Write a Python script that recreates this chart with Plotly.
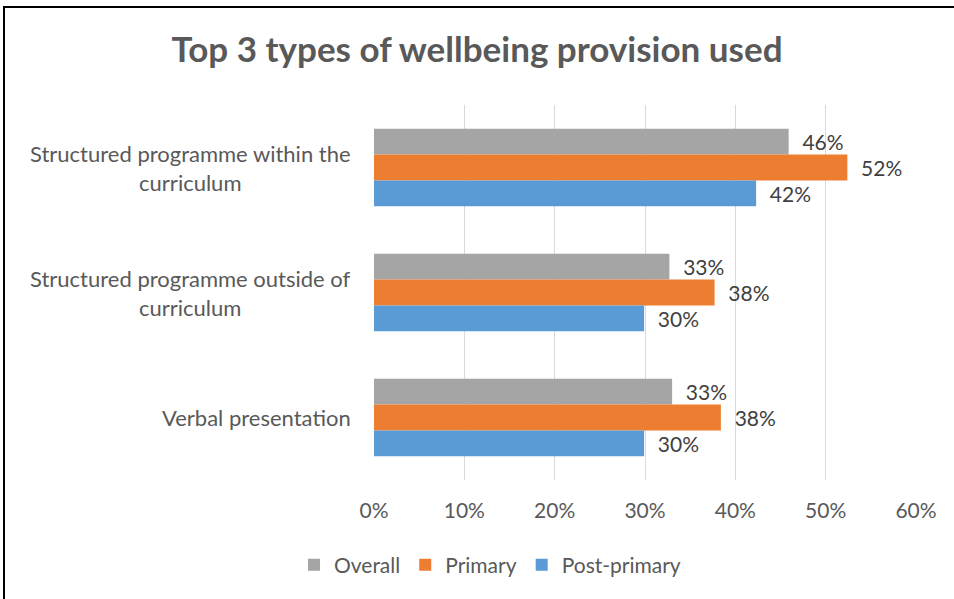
import plotly.graph_objects as go

categories = [
    "Structured programme within the<br>curriculum",
    "Structured programme outside of<br>curriculum",
    "Verbal presentation",
]
series_names = ["Overall", "Primary", "Post-primary"]
overall = [45.9, 32.7, 33.0]
primary = [52.4, 37.7, 38.4]
post_primary = [42.3, 29.9, 29.9]
colors = ["#A5A5A5", "#ED7D31", "#5B9BD5"]
x_ticks = [0, 10, 20, 30, 40, 50, 60]
x_tick_labels = ["0%", "10%", "20%", "30%", "40%", "50%", "60%"]

FONT = "Lato"
TXT = "#595959"

fig = go.Figure()
for name, vals, col in zip(series_names, [overall, primary, post_primary], colors):
    fig.add_trace(go.Bar(
        y=categories, x=vals, name=name, orientation="h",
        marker=dict(color=col, line=dict(width=0)),
        texttemplate="\u00a0\u00a0%{x:.0f}%", textposition="outside",
        textfont=dict(family=FONT, size=21, color="#404040"),
        cliponaxis=False,
    ))

fig.update_layout(
    width=954, height=599,
    margin=dict(l=374, r=38, t=105, b=119),
    paper_bgcolor="white", plot_bgcolor="white",
    barmode="group", bargap=0.38, bargroupgap=0,
    title=dict(text="<b>Top 3 types of wellbeing provision used</b>",
               x=0.5, xanchor="center", y=1 - 50 / 599, yanchor="middle",
               font=dict(family=FONT, size=35, color=TXT)),
    xaxis=dict(range=[0, 60], tickvals=x_ticks, ticktext=x_tick_labels,
               showgrid=True, gridcolor="#D9D9D9", gridwidth=1, zeroline=False,
               showline=False, ticks="", ticklen=0, ticklabelstandoff=16,
               tickfont=dict(family=FONT, size=21, color=TXT)),
    yaxis=dict(autorange="reversed", showticklabels=False, showgrid=False,
               zeroline=False, showline=False, ticks=""),
    legend=dict(orientation="h", x=(490 - 374) / 542, xanchor="center",
                y=(480 - 565) / 375, yanchor="middle",
                font=dict(family=FONT, size=21, color=TXT),
                itemwidth=30, traceorder="normal"),
    showlegend=True,
)

for cat in categories:
    fig.add_annotation(
        x=0, xref="paper", y=cat, yref="y", xanchor="right", xshift=-21,
        text=cat, showarrow=False, align="center",
        font=dict(family=FONT, size=22, color=TXT),
    )

# chart border
fig.add_shape(type="rect", xref="paper", yref="paper",
              x0=(4 - 374) / 542, x1=(960 - 374) / 542,
              y0=(480 - 610) / 375, y1=(480 - 7) / 375,
              line=dict(color="black", width=2), fillcolor="rgba(0,0,0,0)", layer="below")

fig.write_html("out.html", config={"displayModeBar": False},
               post_script="document.body.style.margin='0';")
